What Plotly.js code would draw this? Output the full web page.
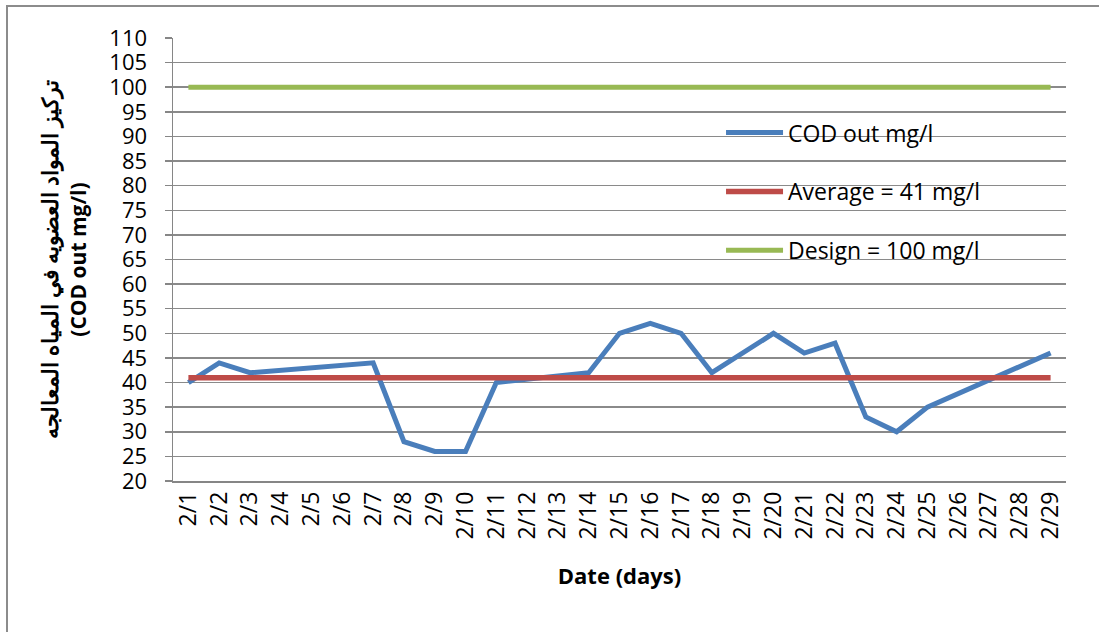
<!DOCTYPE html>
<html>
<head>
<meta charset="utf-8">
<script src="https://cdn.plot.ly/plotly-3.0.1.min.js"></script>
<style>
  html, body { margin: 0; padding: 0; background: #fff; }
  #chart { width: 1099px; height: 632px; position: relative; }
  #frame { position: absolute; left: 6px; top: 5px; width: 1093px; height: 627px;
           border-left: 2px solid #8c8c8c; border-top: 2px solid #8c8c8c; pointer-events: none; }
</style>
</head>
<body>
<div id="chart"></div>
<div id="frame"></div>
<script>
// ---- data ----
const dates = ["2/1","2/2","2/3","2/4","2/5","2/6","2/7","2/8","2/9","2/10",
  "2/11","2/12","2/13","2/14","2/15","2/16","2/17","2/18","2/19","2/20",
  "2/21","2/22","2/23","2/24","2/25","2/26","2/27","2/28","2/29"];
const codOut = [40, 44, 42, null, null, null, 44, 28, 26, 26,
  40, null, null, 42, 50, 52, 50, 42, null, 50,
  46, 48, 33, 30, 35, null, null, null, 46];
const averageValue = 41;
const designValue = 100;
const averageLine = dates.map(() => averageValue);
const designLine = dates.map(() => designValue);
const seriesNames = ["COD out mg/l", "Average = 41 mg/l", "Design = 100 mg/l"];
const yTitleArabic = "تركيز المواد العضويه في المياه المعالجه";
const yTitleEnglish = "(COD out mg/l)";
const xTitle = "Date (days)";

const FONT = "'Open Sans', 'Noto Sans', sans-serif";

const traces = [
  { x: dates, y: codOut, name: seriesNames[0], type: "scatter", mode: "lines",
    connectgaps: true, line: { color: "#4A7EBB", width: 5 }, legendgroup: "a" },
  { x: dates, y: averageLine, name: seriesNames[1], type: "scatter", mode: "lines",
    line: { color: "#BE4B48", width: 5.5 }, legendgroup: "b" },
  { x: dates, y: designLine, name: seriesNames[2], type: "scatter", mode: "lines",
    line: { color: "#98B954", width: 5 }, legendgroup: "c" }
];

const layout = {
  width: 1099, height: 632,
  margin: { l: 173, r: 33, t: 38, b: 151 },
  paper_bgcolor: "#fff", plot_bgcolor: "#fff",
  font: { family: FONT, size: 21, color: "#000" },
  showlegend: true,
  legend: {
    x: 0.6137, y: 0.835, xanchor: "left", yanchor: "top",
    bgcolor: "rgba(0,0,0,0)", borderwidth: 0,
    font: { family: FONT, size: 23, color: "#000" },
    traceorder: "grouped", tracegroupgap: 26, itemwidth: 57
  },
  xaxis: {
    type: "category", categoryorder: "array", categoryarray: dates,
    range: [-0.5, 28.5], autorange: false,
    tickangle: -90, tickfont: { family: FONT, size: 23 },
    showgrid: false, showline: true, linecolor: "#868686", linewidth: 1.5,
    ticks: "", zeroline: false, fixedrange: true,
    title: { text: xTitle, font: { family: FONT, size: 22, weight: "bold" }, standoff: 30 }
  },
  yaxis: {
    range: [20, 110], dtick: 5, tick0: 20, autorange: false,
    showgrid: true, gridcolor: "#8a8a8a", gridwidth: 1.5,
    showline: true, linecolor: "#868686", linewidth: 1.5,
    ticks: "outside", ticklen: 7, tickcolor: "#868686", tickwidth: 1.5,
    ticklabelstandoff: 13,
    tickfont: { family: FONT, size: 22 }, zeroline: false, fixedrange: true,
    title: {
      text: yTitleArabic + '<br><span style="font-size:21px">' + yTitleEnglish + '</span>',
      font: { family: FONT, size: 22, weight: "bold" }, standoff: 16
    }
  }
};

Plotly.newPlot("chart", traces, layout, { staticPlot: true, displayModeBar: false });
</script>
</body>
</html>
